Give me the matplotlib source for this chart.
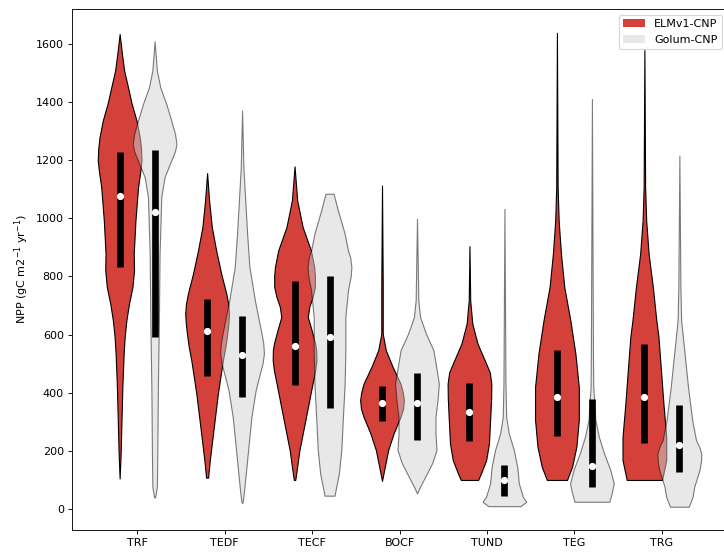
import matplotlib
matplotlib.use("Agg")
import matplotlib.pyplot as plt
from matplotlib.patches import Patch
import numpy as np

# Biomas
biomas = ["TRF", "TEDF", "TECF", "BOCF", "TUND", "TEG", "TRG"]

# ELMv1-CNP: resumen por bioma
elm_min = [105, 108, 100, 97, 100, 100, 100]
elm_q1 = [832, 458, 428, 303, 233, 252, 228]
elm_med = [1075, 612, 562, 366, 332, 386, 386]
elm_q3 = [1227, 723, 783, 423, 434, 546, 569]
elm_max = [1633, 1155, 1178, 1112, 904, 1637, 1578]

# Golum-CNP: resumen por bioma
gol_min = [40, 22, 46, 54, 10, 25, 8]
gol_q1 = [592, 386, 349, 237, 46, 77, 126]
gol_med = [1021, 531, 592, 366, 100, 148, 220]
gol_q3 = [1233, 663, 801, 469, 151, 378, 359]
gol_max = [1608, 1370, 1084, 998, 1032, 1410, 1215]

# Perfiles de densidad (niveles de NPP y densidad relativa)
elm_niveles = [
    [105, 191, 420, 535, 592, 649, 706, 763, 821, 878, 992, 1050, 1107, 1160, 1198, 1240, 1278, 1336, 1393, 1450, 1507, 1565, 1633],
    [108, 168, 283, 397, 512, 560, 603, 640, 672, 705, 741, 809, 889, 969, 1061, 1155],
    [100, 122, 203, 317, 431, 475, 512, 545, 569, 620, 660, 695, 730, 763, 800, 832, 889, 969, 1061, 1178],
    [97, 145, 203, 260, 317, 345, 374, 400, 431, 489, 546, 603, 775, 1112],
    [100, 122, 168, 225, 317, 380, 431, 470, 500, 569, 638, 718, 904],
    [100, 145, 214, 306, 420, 535, 649, 763, 878, 992, 1107, 1637],
    [100, 122, 168, 248, 363, 477, 592, 649, 763, 878, 992, 1107, 1578],
]
elm_densidad = [
    [0, 1, 2.7, 4, 5, 6.7, 9.3, 12.7, 14.3, 14, 15.7, 17, 18.3, 20.5, 21.7, 21.2, 20, 16.7, 12, 8.3, 4.5, 2.3, 0],
    [1, 2.7, 6.7, 10.7, 15.7, 18.3, 20, 21.2, 21.7, 21, 19, 14, 9, 4.7, 2, 0],
    [0.7, 1.7, 5, 11.7, 18.3, 21, 22.3, 22.1, 21, 17, 13.5, 15, 18.5, 20.7, 20.8, 20, 16.7, 8.3, 2.7, 0],
    [0, 2.7, 6, 11.3, 18, 20.5, 21.3, 20.3, 18, 10.3, 3.7, 0.7, 0.7, 0],
    [8.3, 11, 16, 18.7, 20, 20.8, 21, 19.5, 16, 7.7, 2.7, 0.7, 0],
    [10, 15, 19.3, 21.7, 21.7, 18.3, 13.3, 7.3, 4, 1.7, 0.7, 0],
    [16.7, 18, 20.7, 20.7, 18, 15.7, 13.3, 11.3, 8, 4, 1.7, 0.7, 0],
]
gol_niveles = [
    [40, 77, 191, 420, 649, 878, 1072, 1141, 1198, 1230, 1255, 1290, 1336, 1393, 1450, 1507, 1608],
    [22, 54, 122, 203, 317, 409, 466, 500, 535, 570, 603, 718, 832, 947, 1175, 1370],
    [46, 65, 122, 203, 317, 431, 546, 660, 752, 800, 832, 865, 889, 947, 1027, 1084],
    [54, 77, 111, 157, 203, 260, 317, 374, 431, 489, 546, 603, 660, 718, 998],
    [10, 25, 42, 88, 145, 203, 260, 317, 431, 1032],
    [25, 54, 88, 134, 191, 248, 306, 363, 420, 535, 1410],
    [8, 42, 77, 134, 165, 191, 215, 237, 306, 420, 535, 649, 763, 1215],
]
gol_densidad = [
    [0.5, 2.3, 2.7, 3.3, 4.3, 5, 6.7, 10, 16.7, 20.5, 22, 20.5, 16.7, 11.7, 5.7, 2.3, 0],
    [0.5, 1.7, 3.7, 6, 9.3, 13.5, 17.7, 20.3, 21.7, 21, 19.3, 12.7, 7.3, 5, 1.3, 0],
    [5, 6, 9.3, 11.7, 13.3, 15, 15.7, 15.7, 18.3, 21, 21.7, 20.5, 18.3, 15, 8.3, 4],
    [0, 3, 8, 14.7, 19, 18, 18, 20, 21.3, 18.7, 16, 8.7, 3, 1.3, 0],
    [16, 21.7, 18.3, 14.3, 12.7, 9.3, 4.3, 1.7, 1, 0],
    [16.7, 19, 21, 17.7, 11.7, 6.7, 3.3, 2.3, 1.3, 1, 0],
    [9, 12.7, 14.3, 19.3, 20.8, 21, 19, 16, 12.3, 8.3, 5, 1.7, 1, 0],
]


def armar_stats(niveles, densidad, mn, med, mx):
    out = []
    for i in range(len(niveles)):
        out.append(dict(coords=np.array(niveles[i], dtype=float),
                        vals=np.array(densidad[i], dtype=float),
                        mean=med[i], median=med[i], min=mn[i], max=mx[i]))
    return out


x = np.arange(len(biomas))
pos_elm = x - 0.2
pos_gol = x + 0.2

fig = plt.figure(figsize=(9.05, 6.9125), dpi=80)
ax = fig.add_axes([0.0988, 0.0416, 0.906, 0.9421])

# Violines ELM (rojo)
p1 = ax.violin(armar_stats(elm_niveles, elm_densidad, elm_min, elm_med, elm_max),
               positions=pos_elm, widths=0.5, showextrema=False)
for b in p1["bodies"]:
    b.set_facecolor("#d4403a")
    b.set_edgecolor("black")
    b.set_linewidth(1)
    b.set_alpha(1)
    b.set_zorder(1)

# Violines Golum (gris)
p2 = ax.violin(armar_stats(gol_niveles, gol_densidad, gol_min, gol_med, gol_max),
               positions=pos_gol, widths=0.5, showextrema=False)
for b in p2["bodies"]:
    b.set_facecolor("#d3d3d3")
    b.set_edgecolor("black")
    b.set_linewidth(1)
    b.set_alpha(0.5)
    b.set_zorder(2)

# Cajas internas
ax.vlines(pos_elm, elm_q1, elm_q3, color="black", lw=6, zorder=3)
ax.vlines(pos_gol, gol_q1, gol_q3, color="black", lw=6, zorder=3)
ax.scatter(pos_elm, elm_med, s=42, color="white", zorder=4, linewidths=0)
ax.scatter(pos_gol, gol_med, s=42, color="white", zorder=4, linewidths=0)

ax.set_xticks(x)
ax.set_xticklabels(biomas)
ax.set_yticks(np.arange(0, 1601, 200))
ax.set_xlim(-0.75, 6.75)
ax.set_ylim(-72, 1719)
ax.set_ylabel("NPP (gC m2$^{-1}$ yr$^{-1}$)")

handles = [Patch(facecolor="#d4403a", label="ELMv1-CNP"),
           Patch(facecolor="#d3d3d3", alpha=0.5, label="Golum-CNP")]
ax.legend(handles=handles, loc="upper right")

fig.savefig("out.png", dpi=80)
